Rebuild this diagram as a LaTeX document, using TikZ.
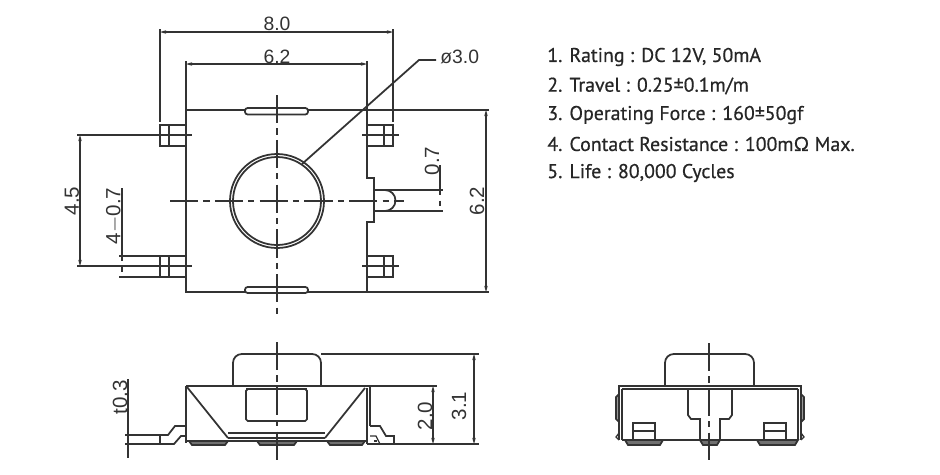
\documentclass[tikz,border=0pt]{standalone}
\usepackage{fontspec}
\setmainfont{Liberation Sans}
\newfontfamily\specfont[FakeBold=0.6]{PT Sans}
\usetikzlibrary{arrows.meta}
\definecolor{inkline}{HTML}{333333}
\tikzset{
    outline/.style={draw=inkline, line width=1pt},
    thinline/.style={draw=inkline, line width=0.75pt},
    centerline/.style={draw=inkline, line width=0.75pt, dash pattern=on 16pt off 3pt on 3.5pt off 3pt},
    dimline/.style={thinline, {Stealth[length=3.5pt,width=2pt]}-{Stealth[length=3.5pt,width=2pt]}},
    dimtext/.style={text=inkline, font=\fontsize{11}{12}\selectfont, inner sep=0pt},
    sidetext/.style={dimtext, rotate=90, font=\fontsize{11.7}{12}\selectfont},
    spectext/.style={text=black!85, font=\specfont\fontsize{11.3}{12}\selectfont, anchor=west, inner sep=0pt}
}
\begin{document}
\begin{tikzpicture}[x=0.02cm, y=-0.02cm]
    \useasboundingbox (0,0) rectangle (940,474);

    % top view body
    \draw[outline] (186,110) -- (186,292) -- (245,292);
    \draw[outline] (308,292) -- (367,292) -- (367,222) -- (374,222) -- (374,178) -- (367,178) -- (367,110);
    \draw[thinline] (186,110) -- (245,110);
    \draw[thinline] (308,110) -- (489,110);
    \draw[thinline] (367,292) -- (489,292);
    \draw[outline, rounded corners=1.5pt] (245,108) rectangle (308,114.5);
    \draw[outline, rounded corners=1.5pt] (245,287) rectangle (308,293);
    \draw[outline] (277,201) circle[radius=47];
    \draw[outline] (277,201) circle[radius=44];

    % pads
    \foreach \y in {135,266} {
        \draw[outline] (186,\y-10) -- (160,\y-10) -- (160,\y+11) -- (186,\y+11);
        \draw[outline] (169,\y-10) -- (169,\y+11);
        \draw[outline] (367,\y-10) -- (393,\y-10) -- (393,\y+11) -- (367,\y+11);
        \draw[outline] (384,\y-10) -- (384,\y+11);
        \draw[thinline] (77,\y) -- (192,\y);
        \draw[thinline] (362,\y) -- (399,\y);
    }

    % pin on the right
    \draw[outline] (374,190) -- (385,190) arc[start angle=-90, end angle=90, radius=10.5] -- (374,211);
    \draw[thinline] (385,190) -- (443,190);
    \draw[thinline] (385,211) -- (443,211);

    % center lines of top view
    \draw[centerline] (170,201) -- (404,201);
    \draw[centerline] (277,95) -- (277,315);

    % dimensions of top view
    \draw[thinline] (160,29) -- (160,122);
    \draw[thinline] (393,29) -- (393,122);
    \draw[thinline] (186,61) -- (186,110);
    \draw[thinline] (367,61) -- (367,110);
    \draw[dimline] (160,32) -- (393,32);
    \draw[dimline] (186,64) -- (367,64);
    \draw[dimline] (80,135) -- (80,266);
    \draw[dimline] (486,110) -- (486,292);
    \draw[thinline] (119,256) -- (186,256);
    \draw[thinline] (119,277) -- (186,277);
    \draw[thinline] (122,188) -- (122,256);
    \draw[thinline, dashed] (122,256) -- (122,277);
    \draw[thinline] (440,165) -- (440,190);
    \draw[thinline, dashed] (440,190) -- (440,211);
    \draw[outline] (302,164) -- (419,60) -- (436,60);

    \node[dimtext] (lenA) at (277,24) {8.0};
    \node[dimtext] (lenB) at (277,57) {6.2};
    \node[dimtext, anchor=west] (dia) at (440,57) {ø3.0};
    \node[sidetext] (hgtA) at (72,201) {4.5};
    \node[sidetext] (padW) at (114,216) {4$-$0.7};
    \node[sidetext] (pinW) at (432,161) {0.7};
    \node[sidetext] (hgtB) at (477,201) {6.2};

    % spec list
    \foreach \txt [count=\i] in {1. Rating : DC 12V{,} 50mA, 2. Travel : 0.25±0.1m/m, 3. Operating Force : 160±50gf, 4. Contact Resistance : 100mΩ Max., 5. Life : 80{,}000 Cycles} {
        \node[spectext] (spec\i) at (547,28+\i*29) {\txt};
    }

    % front view
    \draw[outline, rounded corners=5pt] (233,386) -- (233,354) -- (321,354) -- (321,386);
    \draw[outline] (186,386) -- (370,386) -- (370,426);
    \draw[outline] (186,386) -- (186,443);
    \draw[thinline] (246,389) -- (307,389);
    \draw[thinline] (367,388) -- (367,444);
    \draw[outline, rounded corners=1pt] (246,389) rectangle (307,421);
    \draw[outline] (187,387) -- (228,438);
    \draw[outline] (365,388) -- (325,438);
    \draw[thinline] (228,433) -- (325,433);
    \draw[outline] (228,438) -- (325,438);
    \draw[thinline] (186,441) -- (367,441);
    \foreach \a/\b in {189/228, 257/297, 327/365} {
        \draw[outline, fill=inkline!70] (\a,441) -- (\a+3,445) -- (\b-3,445) -- (\b,441) -- cycle;
    }
    % leads
    \draw[outline] (125,435) -- (168,435) -- (175,426) -- (186,426);
    \draw[outline] (125,444) -- (174,444) -- (181,436) -- (186,436);
    \draw[thinline] (160,435) -- (160,444);
    \draw[outline] (370,426) -- (380,426) -- (386,436) -- (394,436) -- (394,444);
    \draw[thinline] (370,436) -- (376,436) -- (380,444);
    \draw[thinline] (374,441) -- (377,441);

    % dimensions of front view
    \draw[centerline] (277,342) -- (277,460);
    \draw[thinline] (321,354) -- (479,354);
    \draw[thinline] (370,386) -- (437,386);
    \draw[thinline] (367,444) -- (479,444);
    \draw[dimline] (433,386) -- (433,444);
    \draw[dimline] (474,354) -- (474,444);
    \draw[thinline] (128,379) -- (128,458);
    \node[sidetext] (thick) at (120,397) {t0.3};
    \node[sidetext] (hgtC) at (425,416) {2.0};
    \node[sidetext] (hgtD) at (459,406) {3.1};

    % side view
    \draw[outline, rounded corners=5pt] (665,386) -- (665,354) -- (754,354) -- (754,386);
    \draw[outline] (619,440) -- (619,386) -- (801,386) -- (801,440);
    \draw[thinline] (622,389) -- (798,389);
    \draw[thinline] (622,389) -- (622,440);
    \draw[thinline] (798,389) -- (798,440);
    \draw[outline, fill=inkline!50] (619,394) -- (616,397) -- (616,419) -- (619,422) -- cycle;
    \draw[outline, fill=inkline!50] (801,394) -- (804,397) -- (804,419) -- (801,422) -- cycle;
    \draw[thinline] (619,433) -- (616,437) -- (619,440);
    \draw[thinline] (801,433) -- (804,437) -- (801,440);
    \draw[outline] (688,389) -- (688,415) -- (691,419) -- (700,419) -- (700,440);
    \draw[outline] (732,389) -- (732,415) -- (729,419) -- (720,419) -- (720,440);
    \draw[outline] (622,440) -- (798,440);
    \foreach \a in {633,764} {
        \draw[outline] (\a,440) -- (\a,423) -- (\a+22,423) -- (\a+22,440);
        \draw[thinline] (\a,431) -- (\a+22,431);
    }
    \foreach \a/\b in {625/663, 700/720, 757/798} {
        \draw[outline, fill=inkline!70] (\a,440) -- (\a+3,445) -- (\b-3,445) -- (\b,440) -- cycle;
    }
    \draw[centerline] (709,343) -- (709,460);
\end{tikzpicture}
\end{document}
